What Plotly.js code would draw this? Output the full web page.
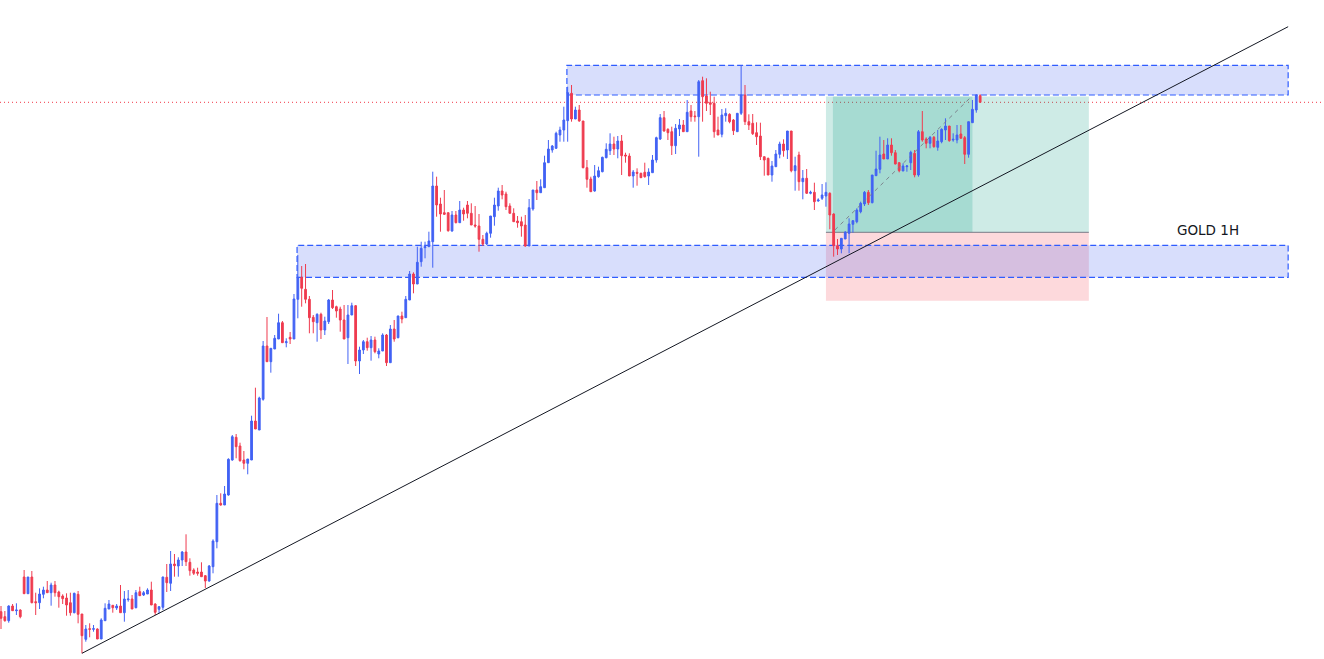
<!DOCTYPE html>
<html>
<head>
<meta charset="utf-8">
<script src="https://cdn.plot.ly/plotly-3.0.1.min.js"></script>
<style>html,body{margin:0;padding:0;background:#fff}#chart{width:1324px;height:659px}</style>
</head>
<body>
<div id="chart"></div>
<script>
// Candle OHLC values (arbitrary price units, no axis shown)
const openP = [88.3,83.3,79.3,94,89.3,90,123,106.3,123,98.3,97.3,105.7,110,107.3,115,108,104,102,97.3,87.3,105.7,86,60.7,71.3,70.7,71,61,79.3,91,94.7,92,94,87.3,100.3,101,92.3,108.3,105,106,110,96,90.7,92.7,122.7,116.7,136,134,140,148,137.7,130,128,128,124.3,119,133.3,158.3,196.7,195,205,240,262.7,254,240,236.7,240,279,270,300.7,354,338.3,351,361,377.3,357.3,362.7,361,400.7,422.7,410.7,400.7,382.7,377.3,385.7,370,378.3,400,393.3,391,380,362.3,385,394.3,339,350,358.3,352.3,360,346,349,365,337.3,371,362.3,384,382.3,400,426,416,438.3,452.3,453.3,458.3,514,496,487.3,487.3,469,485,477.3,490,495,486.7,475,474,460.7,456,466.7,483.3,494,509,506,494,486.7,479,478.3,475,454,491,510,507.3,512.3,537.3,550,551.7,565,570,579.3,606.7,581,590,579,532.3,521,509,523.3,528.3,542.3,549.3,556,551,559,545,544,524,527.7,526.7,527.7,524,527.3,540,561,582.3,570.7,568.3,554.3,571,575,568.3,589,584,583.3,619.3,604,597.3,596.7,570,565.7,584.3,585.7,580,568.3,586.7,605,578.3,576.7,567.3,564,543.3,541.7,525,533.3,545.7,556,550,569,529.3,545,518.3,521.7,506.7,507.7,499,501.7,504,506.7,486,454.3,451,461,466.7,475.7,478.3,488.3,496,507.7,497.3,524.3,530.7,546,541,555,547.3,537.3,529,533.3,537.3,546.7,525,568.3,561,556.7,562.7,552.7,558.3,570,574,560,560,566,562.3,545.7,577.3,590,604.3];
const highP = [94,89,94.7,96,96.7,90.7,130,123,129,107.3,111.7,113.3,119,117.3,119,109.3,105.7,106.7,107.3,107.3,109,86,75,76.7,75,71.7,81.7,96.7,100,95,96,115,109,110,105,110,113.3,109,111.7,118.3,96.7,94,123.3,136,149,146,142.7,149,165.7,141.7,131.7,132.3,137.7,125,135,160.7,205,206.7,214,241.7,265,266,257.3,249,241,284.3,312.3,303.3,359,383,351.7,365,386.3,379,361.7,368,406,445,434,436,404,385,386.7,387.3,383.3,401,410,394.3,393.3,395,395,397.3,395,353.3,360,362.3,364,363.3,351.7,366.7,366,375,380,384.3,388.3,404,429,427.7,453.3,458.3,458.3,468.3,528.3,523.3,502.3,510,487.3,489,489,499,492.3,499,496.7,494,486,465,468.3,484,502.3,512.3,515,508.3,496.7,491.7,484,483.3,485,501,510,519,520.7,544.3,560,555,568.3,573.3,593.3,613.3,615,593.3,595,579,540,523.3,535,533.3,543.3,556.7,566.7,563.3,564,565,547.3,546.7,530,531.7,527.3,537.3,531.7,545,563.3,586,589,571.7,573.3,576,581,580,600,595,589,620,623.3,621.7,608.3,603.3,583.3,591,591.7,586.7,581,586.7,635,615,585.7,586,577.7,577.3,543.3,542.3,539,550,558.3,560.7,569,569,543.3,548.3,530,531,509.3,517.3,501.7,516,517.7,507.7,486.7,461,461.7,469,481.7,480,491.7,498.3,509,510,525,549.3,563.3,560,561.7,561.7,550,537.7,536.7,535,549.3,550,570,589,562.7,564,564,570,571.7,581.7,574,566.7,575,575,564,578.3,600,605.7,605.7];
const lowP = [71,78.3,77.3,89,85,81.7,106.3,106.3,96.7,85,91,101.7,107.3,94.3,103.3,92.3,96,84.3,84.3,86.7,76.7,46.7,58.3,62.7,68.3,61,61,79.3,91,87.3,90,87.3,78.3,98.3,91,91.7,105,104,106,95,85,86.7,90,108,109,123.3,123.3,134,134,124.3,125,124.3,123.3,112,118.3,126.7,151.7,194.3,195,204.3,239.3,241.7,238.3,230.7,225.7,240,271,270,299.3,338.3,327.3,351,361,357.3,352.7,356,361,381.7,393.3,396.7,366.7,366.7,358.3,361,365,376,391,382.3,368.3,361,336,385,334,326,346,349.3,339.3,346.7,341.7,349,334,337.3,358.3,361.7,376.7,382.3,400,406.7,416,433.3,441.7,453.3,432.3,483.3,468.3,485,468.3,468.3,476.7,477.3,479.3,481.7,475,472.3,448.3,454,455,462.3,474.3,489.3,500.7,490,486.7,478.3,472.3,463.3,453.3,454,489.3,500,507.3,512.3,537.3,547.3,551,558.3,558.3,558.3,578.3,581,578.3,531.7,512.3,508.3,508.3,522.3,527.7,541.7,545,545,541.7,525,537.3,524,512.3,514.3,522.3,522.3,515,527.3,537.3,560,568.3,560,545,546,564,568.3,568.3,578.3,578.3,543.3,578.3,589,585,562.3,565,562.7,578.3,576.7,565,568.3,585,575,570,565,555,540,524.3,525,518.3,533.3,541.7,543.3,541,527.7,509.3,509.3,500.7,506,505.7,490,498.3,500,493.3,470.7,443.3,445,446.7,461,446.7,467.3,476.7,486.7,494,495,496.7,524,526.7,541,541,544.3,535.7,527.7,529,528.3,530,522.7,523.3,558.3,551.7,551.7,552.3,549.3,556.7,560,558.3,558.3,556.7,561.7,536,542.3,577.3,587.3,597.3];
const closeP = [81.7,79.3,94,89.3,90,83.3,106.3,123,97.3,97.3,106,110,107.3,115,107.3,103.3,101.3,95,87.3,106.7,85.7,64.3,71,70.7,71.3,61,80,91.7,96,92.3,94,87.3,101,101,91,107.3,104.3,107.3,110,95,87.7,93.3,123,117.3,136,134.3,140,148,138.3,129.3,126.7,126.7,123.3,119,134,159,196.7,195,206,240.7,263.3,253.3,239.3,236.7,241,279,271,302,354,338.3,351.7,361.7,377.3,357.3,358.3,361,401,422.7,411.7,400.7,382.3,378.3,385.7,370,379,400,392.3,389,380,361,385,394.3,339,350,358.3,352.3,360,348.3,349,365,337.3,371,361,384,381,400.7,426,416,437.7,451.7,453.3,459,514,495,486,485.7,469.3,485,477.3,490,486,486.7,475,474,460.7,456,466.7,484,495,509,505,493.3,486.7,478.3,477.3,474,454,492.3,510,507.3,513.3,537.3,551,554,566.7,570,580,607.3,581,590,579,532.3,520.7,508.3,524,529.3,542.7,550.7,556,551,559,544.3,544,524,528,526.7,522.3,523.3,528,540,562.3,582.3,569,567.3,554.3,571.7,575,568.3,587.7,583.3,583.3,618.3,603.3,596.7,595.7,568.3,565,585,586.7,578.3,569.3,586.7,605,578.3,575,566.3,563.3,543.3,540,525,534,546,556,549.3,569,529.3,534.3,518.3,521.7,506.7,507.7,498.3,500,505,507.7,485,454.3,451,461.7,467.7,476,479.3,490,496.7,507.7,497.3,525,531,545,541,555,547.3,536,529.3,534,534,547.7,525,568.3,560,556.7,562.7,553.3,559,570.7,574,559.3,560.7,565,561.7,545.7,578.3,590.7,605,597.7];
const barIndex = closeP.map((_, i) => i + 1);

// Drawing levels (same price units) and bar positions of the chart annotations
const upperZoneTop = 634.7, upperZoneBottom = 605, upperZoneStartBar = 147.8;
const lowerZoneTop = 454.7, lowerZoneBottom = 422.7, lowerZoneStartBar = 77.8;
const zoneEndBar = 334.9;
const trendStartBar = 22, trendStartPrice = 46.7, trendEndBar = 334.9, trendEndPrice = 673.3;
const posStartBar = 215, posEndBar = 283.2, posFillStartBar = 216.8, posFillEndBar = 253;
const entryPrice = 467.7, targetPrice = 603.5, stopPrice = 399.3;
const pathStart = [217.3, 470], pathEnd = [252.9, 604];
const lastClose = closeP[closeP.length - 1];
const labelText = 'GOLD 1H', labelBar = 314, labelPrice = 470;

const UP = '#4262f4', DOWN = '#ef3b4f';
const zoneFill = 'rgba(60,90,240,0.2)', zoneLine = '#2f5cff';
const profitFill = 'rgba(8,153,129,0.2)', lossFill = 'rgba(242,54,69,0.19)';

const trace = {
  type: 'candlestick',
  x: barIndex, open: openP, high: highP, low: lowP, close: closeP,
  increasing: {line: {color: UP, width: 1}, fillcolor: UP},
  decreasing: {line: {color: DOWN, width: 1}, fillcolor: DOWN},
  whiskerwidth: 0,
  hoverinfo: 'skip'
};

const shapes = [
  // position tool
  {type:'rect', xref:'x', yref:'y', x0:posStartBar, x1:posEndBar, y0:entryPrice, y1:targetPrice, fillcolor:profitFill, line:{width:0}, layer:'below'},
  {type:'rect', xref:'x', yref:'y', x0:posFillStartBar, x1:posFillEndBar, y0:entryPrice, y1:targetPrice, fillcolor:profitFill, line:{width:0}, layer:'below'},
  {type:'rect', xref:'x', yref:'y', x0:posStartBar, x1:posEndBar, y0:stopPrice, y1:entryPrice, fillcolor:lossFill, line:{width:0}, layer:'below'},
  // zones
  {type:'rect', xref:'x', yref:'y', x0:upperZoneStartBar, x1:zoneEndBar, y0:upperZoneBottom, y1:upperZoneTop, fillcolor:zoneFill, line:{color:zoneLine, width:1.2, dash:'6px,3px'}, layer:'below'},
  {type:'rect', xref:'x', yref:'y', x0:lowerZoneStartBar, x1:zoneEndBar, y0:lowerZoneBottom, y1:lowerZoneTop, fillcolor:zoneFill, line:{color:zoneLine, width:1.2, dash:'6px,3px'}, layer:'below'},
  // entry line
  {type:'line', xref:'x', yref:'y', x0:posStartBar, x1:posEndBar, y0:entryPrice, y1:entryPrice, line:{color:'#787b86', width:1}, layer:'below'},
  // position path
  {type:'line', xref:'x', yref:'y', x0:pathStart[0], x1:pathEnd[0], y0:pathStart[1], y1:pathEnd[1], line:{color:'rgba(120,123,134,0.9)', width:1, dash:'4px,4px'}},
  // last price line
  {type:'line', xref:'paper', yref:'y', x0:0, x1:1, y0:lastClose, y1:lastClose, line:{color:'#f23645', width:1, dash:'1px,3px'}, layer:'below'},
  // trend line
  {type:'line', xref:'x', yref:'y', x0:trendStartBar, x1:trendEndBar, y0:trendStartPrice, y1:trendEndPrice, line:{color:'#131722', width:1}}
];

const layout = {
  width: 1324, height: 659,
  margin: {l:0, r:0, t:0, b:0},
  paper_bgcolor: '#ffffff', plot_bgcolor: '#ffffff',
  showlegend: false,
  boxgap: 0.35,
  xaxis: {range: [0.74, 344.2], visible: false, rangeslider: {visible: false}, fixedrange: true},
  yaxis: {range: [41, 700], visible: false, fixedrange: true},
  shapes: shapes,
  annotations: [{x: labelBar, y: labelPrice, xref:'x', yref:'y', text: labelText, showarrow:false, xanchor:'center', yanchor:'middle', font:{family:'DejaVu Sans, sans-serif', size:13.5, color:'#131722'}}]
};

Plotly.newPlot('chart', [trace], layout, {staticPlot: true, displayModeBar: false});
</script>
</body>
</html>
